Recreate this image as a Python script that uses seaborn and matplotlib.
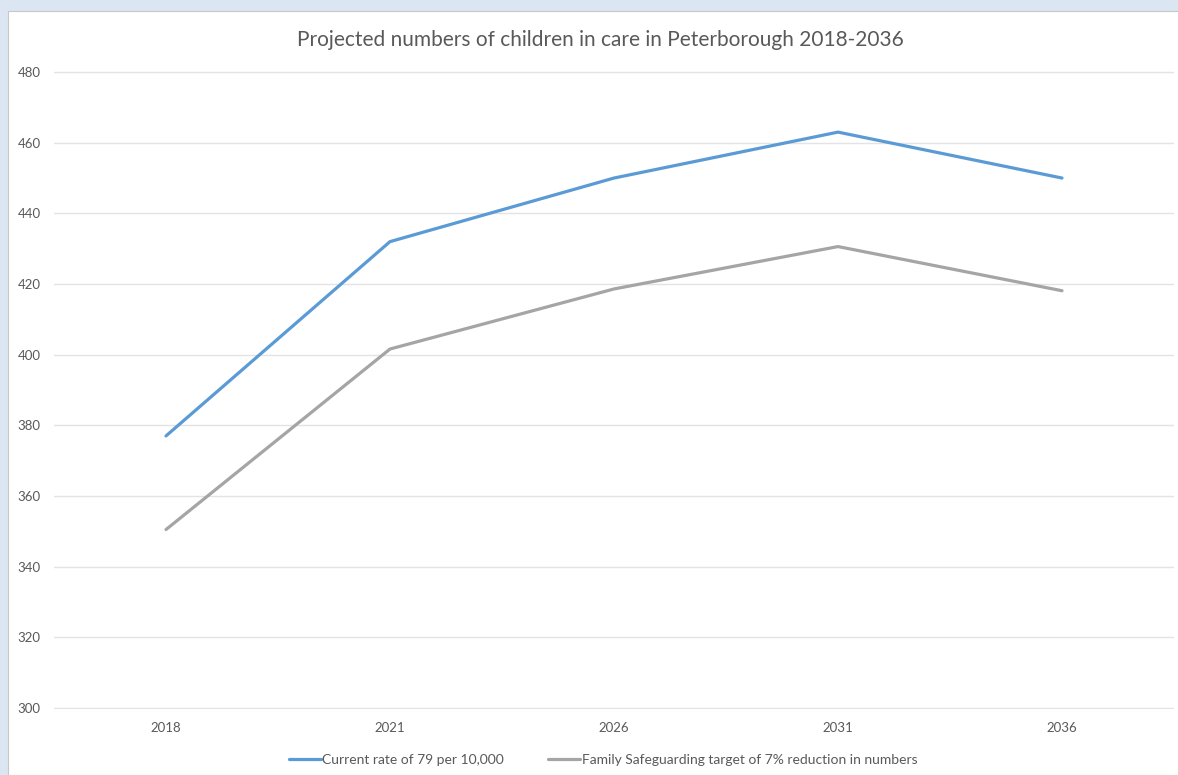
import matplotlib
matplotlib.use("Agg")
import matplotlib.pyplot as plt
import matplotlib.patches as mpatches
import seaborn as sns
import pandas as pd

years = ["2018", "2021", "2026", "2031", "2036"]
current_rate = [377, 432, 450, 463, 450]
fs_target = [350.5, 401.6, 418.6, 430.6, 418.1]
series_names = ["Current rate of 79 per 10,000",
                "Family Safeguarding target of 7% reduction in numbers"]
y_ticks = [300, 320, 340, 360, 380, 400, 420, 440, 460, 480]

df = pd.DataFrame({
    "Year": years * 2,
    "Children": current_rate + fs_target,
    "Series": [series_names[0]] * len(years) + [series_names[1]] * len(years),
})

sns.set_theme(style="white")
plt.rcParams["font.family"] = ["Lato", "DejaVu Sans"]

text_col = "#595959"
fig = plt.figure(figsize=(11.78, 7.75), dpi=100, facecolor="#dce6f2")

# white chart panel on a background layer
bg = fig.add_axes([0, 0, 1, 1], zorder=-1)
bg.set_axis_off()
bg.set_xlim(0, 1)
bg.set_ylim(0, 1)
bg.add_patch(mpatches.Rectangle((8 / 1178, -0.01), 1, 1.01 - 11 / 775,
                                facecolor="white", edgecolor="#c8c8c8",
                                linewidth=0.8))

ax = fig.add_axes([54 / 1178, 66 / 775, 1120 / 1178, 638 / 775], zorder=1)
ax.set_facecolor("none")

sns.lineplot(data=df, x="Year", y="Children", hue="Series",
             palette=["#5b9bd5", "#a5a5a5"], linewidth=2.3, ax=ax,
             legend=True, sort=False)

ax.set_xlim(-0.5, 4.5)
ax.set_ylim(299.7, 480.3)
ax.set_yticks(y_ticks)
ax.grid(axis="y", color="#e3e3e3", linewidth=1.0)
ax.set_axisbelow(True)
for s in ax.spines.values():
    s.set_visible(False)
ax.tick_params(axis="both", length=0, labelsize=9.5, labelcolor=text_col)
ax.tick_params(axis="y", pad=9.5)
ax.tick_params(axis="x", pad=9)
ax.set_xlabel("")
ax.set_ylabel("")

fig.text(0.51, 1 - 40 / 775, "Projected numbers of children in care in Peterborough 2018-2036",
         ha="center", va="center", fontsize=15, color=text_col)

handles, labels = ax.get_legend_handles_labels()
ax.legend(handles, labels, loc="center", bbox_to_anchor=(0.512, 1 - 760 / 775),
          bbox_transform=fig.transFigure, ncol=2, frameon=False,
          fontsize=10, labelcolor=text_col, handlelength=2.3,
          handletextpad=0.1, columnspacing=3.2)

fig.savefig("out.png", dpi=100, facecolor=fig.get_facecolor())
